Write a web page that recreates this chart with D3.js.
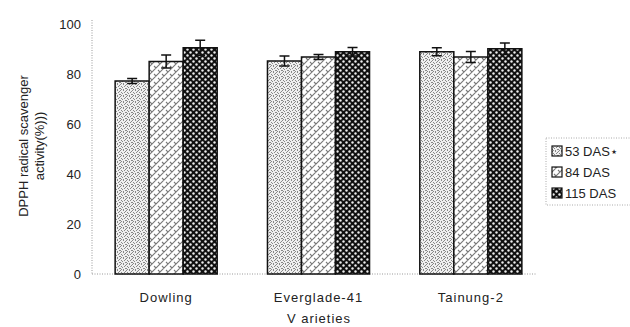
<!DOCTYPE html>
<html>
<head>
<meta charset="utf-8">
<script src="https://cdn.jsdelivr.net/npm/d3@7"></script>
<style>
  body { margin: 0; background: #fff; }
  svg { display: block; }
  text { font-family: "Liberation Sans", Arial, sans-serif; fill: #222; }
</style>
</head>
<body>
<div id="chart-area"></div>
<script>
let varieties = ['Dowling', 'Everglade-41', 'Tainung-2']
let seriesNames = ['53 DAS\u22c6', '84 DAS', '115 DAS']
let das53 = [77.2, 85.2, 88.9]
let das84 = [85.0, 86.8, 86.8]
let das115 = [90.5, 88.9, 90.1]
let err53 = [1.0, 2.0, 1.6]
let err84 = [2.6, 1.0, 2.2]
let err115 = [3.0, 1.7, 2.3]
let yTicks = [0, 20, 40, 60, 80, 100]

let width = 630
let height = 327

let svg = d3.select('#chart-area').append('svg')
  .attr('width', width)
  .attr('height', height)

// PATTERNS

let defs = svg.append('defs')

// fine stipple, dots spread so they do not line up
let p1 = defs.append('pattern')
  .attr('id', 'pat0')
  .attr('patternUnits', 'userSpaceOnUse')
  .attr('width', 6).attr('height', 6)
p1.append('rect').attr('width', 6).attr('height', 6).attr('fill', '#efefef')
;[[0, 0], [3, 0], [5, 1], [1, 2], [4, 2], [2, 3], [0, 4], [5, 4], [3, 5], [1, 5]].forEach(d => {
  p1.append('rect').attr('x', d[0]).attr('y', d[1]).attr('width', 1).attr('height', 1).attr('fill', '#888')
})

let p2 = defs.append('pattern')
  .attr('id', 'pat1')
  .attr('patternUnits', 'userSpaceOnUse')
  .attr('width', 8).attr('height', 8)
p2.append('rect').attr('width', 8).attr('height', 8).attr('fill', '#fff')
p2.append('path')
  .attr('d', 'M0,8 L8,0 M-2,2 L2,-2 M6,10 L10,6 M2,2 L4,4 M6,6 L8,8')
  .attr('stroke', '#777').attr('stroke-width', 1.1).attr('fill', 'none')

let p3 = defs.append('pattern')
  .attr('id', 'pat2')
  .attr('patternUnits', 'userSpaceOnUse')
  .attr('width', 6).attr('height', 6)
p3.append('rect').attr('width', 6).attr('height', 6).attr('fill', '#111')
;[[1.5, 1.5], [4.5, 4.5]].forEach(d => {
  p3.append('circle').attr('cx', d[0]).attr('cy', d[1]).attr('r', 1.2).attr('fill', '#eee')
})

// SCALES

let y = d3.scaleLinear().domain([0, 100]).range([274, 24])

let x = d3.scaleBand()
  .domain(varieties)
  .range([90, 547])
  .paddingInner(0.33)
  .paddingOuter(0.165)

let xInner = d3.scaleBand()
  .domain(d3.range(3))
  .range([0, x.bandwidth()])

let values = [das53, das84, das115]
let errors = [err53, err84, err115]

let bars = []
varieties.forEach((v, i) => {
  values.forEach((s, k) => {
    bars.push({ variety: v, series: k, value: s[i], err: errors[k][i] })
  })
})

// AXES (dotted, no tick marks)

svg.append('line')
  .attr('x1', 92).attr('x2', 92)
  .attr('y1', y(100) - 4).attr('y2', y(0))
  .attr('stroke', '#999').attr('stroke-width', 1).attr('stroke-dasharray', '1,1.5')

svg.append('line')
  .attr('x1', 92).attr('x2', 536)
  .attr('y1', y(0)).attr('y2', y(0))
  .attr('stroke', '#999').attr('stroke-width', 1).attr('stroke-dasharray', '1,1.5')

svg.append('g').selectAll('text')
  .data(yTicks)
  .enter().append('text')
    .attr('x', 81)
    .attr('y', d => y(d))
    .attr('dy', '0.35em')
    .attr('text-anchor', 'end')
    .attr('font-size', 13)
    .text(d => d)

// BARS

let barGroup = svg.append('g')

barGroup.selectAll('rect')
  .data(bars)
  .enter().append('rect')
    .attr('x', d => x(d.variety) + xInner(d.series))
    .attr('y', d => y(d.value))
    .attr('width', xInner.bandwidth())
    .attr('height', d => y(0) - y(d.value))
    .attr('fill', d => 'url(#pat' + d.series + ')')
    .attr('stroke', '#111')
    .attr('stroke-width', 1.5)

// ERROR BARS

let errGroup = svg.append('g')
  .attr('stroke', '#111')
  .attr('stroke-width', 1.5)

bars.forEach(d => {
  let cx = x(d.variety) + xInner(d.series) + xInner.bandwidth() / 2
  errGroup.append('line')
    .attr('x1', cx).attr('x2', cx)
    .attr('y1', y(d.value + d.err)).attr('y2', y(d.value - d.err))
  errGroup.append('line')
    .attr('x1', cx - 5).attr('x2', cx + 5)
    .attr('y1', y(d.value + d.err)).attr('y2', y(d.value + d.err))
  errGroup.append('line')
    .attr('x1', cx - 5).attr('x2', cx + 5)
    .attr('y1', y(d.value - d.err)).attr('y2', y(d.value - d.err))
})

// X LABELS

svg.append('g').selectAll('text')
  .data(varieties)
  .enter().append('text')
    .attr('x', d => x(d) + x.bandwidth() / 2)
    .attr('y', 302)
    .attr('text-anchor', 'middle')
    .attr('font-size', 13)
    .attr('letter-spacing', 1)
    .text(d => d)

svg.append('text')
  .attr('x', 319)
  .attr('y', 323)
  .attr('text-anchor', 'middle')
  .attr('font-size', 13)
  .attr('letter-spacing', 1)
  .text('V arieties')

// Y TITLE

let yTitle = svg.append('text')
  .attr('transform', 'translate(28, 146) rotate(-90)')
  .attr('text-anchor', 'middle')
  .attr('font-size', 13)
yTitle.append('tspan').attr('x', 0).attr('dy', 0).text('DPPH radical scavenger')
yTitle.append('tspan').attr('x', 0).attr('dy', 16).text('activity(%)))')

// LEGEND

svg.append('rect')
  .attr('x', 546).attr('y', 138)
  .attr('width', 90).attr('height', 67)
  .attr('fill', 'none')
  .attr('stroke', '#aaa')
  .attr('stroke-dasharray', '1,1.5')

let legend = svg.append('g').selectAll('g')
  .data(seriesNames)
  .enter().append('g')
    .attr('transform', (d, i) => 'translate(552, ' + (151 + i * 21) + ')')

legend.append('rect')
  .attr('x', 0).attr('y', -5)
  .attr('width', 10).attr('height', 10)
  .attr('fill', (d, i) => 'url(#pat' + i + ')')
  .attr('stroke', '#111')
  .attr('stroke-width', 1.2)

legend.append('text')
  .attr('x', 13)
  .attr('dy', '0.35em')
  .attr('font-size', 13)
  .text(d => d)
</script>
</body>
</html>
